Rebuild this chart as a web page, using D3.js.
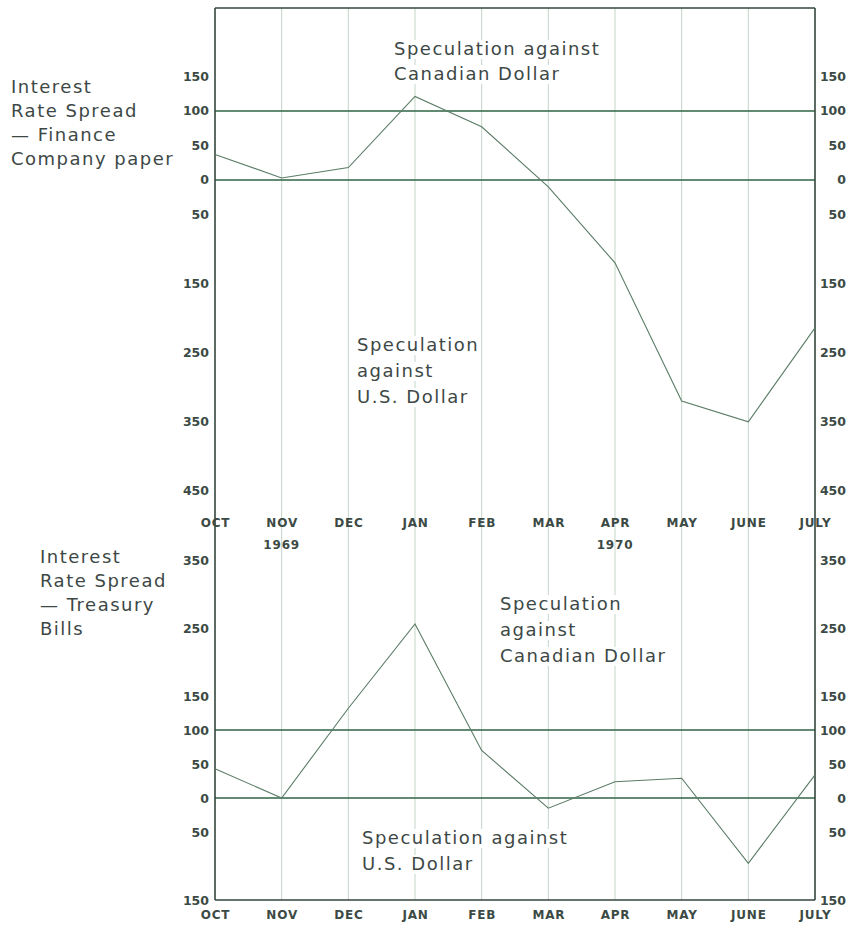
<!DOCTYPE html>
<html>
<head>
<meta charset="utf-8">
<script src="https://cdn.jsdelivr.net/npm/d3@7"></script>
<style>
  html, body { margin: 0; padding: 0; background: #fff; }
  svg { display: block; }
  .tick-label { font-family: "DejaVu Sans", sans-serif; font-weight: bold; font-size: 12.5px; fill: #3c4a45; }
  .month-label { font-family: "DejaVu Sans", sans-serif; font-weight: bold; font-size: 12px; letter-spacing: 0.8px; fill: #3c4a45; }
  .note { font-family: "DejaVu Sans", sans-serif; font-size: 18px; letter-spacing: 1.5px; fill: #3d4846; }
</style>
</head>
<body>
<svg id="chart" width="852" height="926"></svg>
<script>
// ---- data ----
const months = ["OCT", "NOV", "DEC", "JAN", "FEB", "MAR", "APR", "MAY", "JUNE", "JULY"];
const yearLabels = [["NOV", "1969"], ["APR", "1970"]];
const financeSpread = [37, 3, 18, 121, 77, -10, -120, -320, -350, -214];
const treasurySpread = [43, 0, 132, 256, 70, -15, 24, 29, -96, 34];
const financeTicks = [150, 100, 50, 0, -50, -150, -250, -350, -450];
const treasuryTicks = [350, 250, 150, 100, 50, 0, -50, -150];
const refLines = [0, 100];
const financeTitle = ["Interest", "Rate Spread", "— Finance", "Company paper"];
const treasuryTitle = ["Interest", "Rate Spread", "— Treasury", "Bills"];
const topNoteCad = ["Speculation against", "Canadian Dollar"];
const topNoteUsd = ["Speculation", "against", "U.S. Dollar"];
const botNoteCad = ["Speculation", "against", "Canadian Dollar"];
const botNoteUsd = ["Speculation against", "U.S. Dollar"];

// ---- layout ----
const svg = d3.select("#chart");
const L = 215, R = 815, TOP = 8, BOTTOM = 900;
const x = d3.scalePoint().domain(months).range([L, R]);
const yTop = d3.scaleLinear().domain([-485, 249]).range([515, TOP]);
const yBot = d3.scaleLinear().domain([-150, 350]).range([BOTTOM, 560]);

const gridColor = "#c4d4c8";
const refColor = "#2f6446";
const frameColor = "#34463c";
const seriesColor = "#5a7c66";

// vertical month gridlines spanning both panels
svg.append("g").selectAll("line")
  .data(months.slice(1, -1))
  .join("line")
  .attr("x1", d => x(d)).attr("x2", d => x(d))
  .attr("y1", TOP).attr("y2", BOTTOM)
  .attr("stroke", gridColor).attr("stroke-width", 1);

// reference lines at 0 and 100
[yTop, yBot].forEach(y => {
  svg.append("g").selectAll("line")
    .data(refLines)
    .join("line")
    .attr("x1", L).attr("x2", R)
    .attr("y1", d => y(d)).attr("y2", d => y(d))
    .attr("stroke", refColor).attr("stroke-width", 1.5);
});

// frame
const frame = svg.append("g").attr("stroke", frameColor).attr("stroke-width", 1.6);
frame.append("line").attr("x1", L).attr("x2", R).attr("y1", TOP).attr("y2", TOP);
frame.append("line").attr("x1", L).attr("x2", R).attr("y1", BOTTOM).attr("y2", BOTTOM);
frame.append("line").attr("x1", L).attr("x2", L).attr("y1", TOP).attr("y2", BOTTOM);
frame.append("line").attr("x1", R).attr("x2", R).attr("y1", TOP).attr("y2", BOTTOM);

// notes with white backgrounds (masking gridlines)
function note(lines, x0, y0, lh) {
  const g = svg.append("g");
  const bg = g.append("g");
  const t = g.append("text").attr("class", "note");
  lines.forEach((s, i) => {
    t.append("tspan").attr("x", x0).attr("y", y0 + i * lh).text(s);
  });
  lines.forEach((s, i) => {
    const tmp = g.append("text").attr("class", "note").attr("x", x0).attr("y", y0 + i * lh).text(s);
    const b = tmp.node().getBBox();
    tmp.remove();
    bg.append("rect").attr("x", b.x - 3).attr("y", b.y + 2).attr("width", b.width + 4).attr("height", b.height - 2).attr("fill", "#fff");
  });
  return g;
}
note(topNoteCad, 394, 55, 25);
note(topNoteUsd, 357, 351, 26);
note(botNoteCad, 500, 610, 26);
note(botNoteUsd, 362, 844, 26);

// series lines
const lineGen = y => d3.line().x((d, i) => x(months[i])).y(d => y(d));
svg.append("path").datum(financeSpread)
  .attr("d", lineGen(yTop)).attr("fill", "none")
  .attr("stroke", seriesColor).attr("stroke-width", 1.1);
svg.append("path").datum(treasurySpread)
  .attr("d", lineGen(yBot)).attr("fill", "none")
  .attr("stroke", seriesColor).attr("stroke-width", 1.1);

// y axes
function yAxes(y, ticks) {
  const fmt = d => String(Math.abs(d));
  const gl = svg.append("g").attr("transform", `translate(${L},0)`)
    .call(d3.axisLeft(y).tickValues(ticks).tickFormat(fmt).tickSize(0).tickPadding(6));
  const gr = svg.append("g").attr("transform", `translate(${R},0)`)
    .call(d3.axisRight(y).tickValues(ticks).tickFormat(fmt).tickSize(0).tickPadding(31));
  [gl, gr].forEach(g => {
    g.select(".domain").remove();
    g.attr("font-family", null).attr("font-size", null);
    g.selectAll("text").attr("class", "tick-label").attr("fill", null);
  });
  gr.selectAll("text").attr("text-anchor", "end");
}
yAxes(yTop, financeTicks);
yAxes(yBot, treasuryTicks);

// month axes
function monthAxis(yPos) {
  const g = svg.append("g").attr("transform", `translate(0,${yPos})`)
    .call(d3.axisBottom(x).tickSize(0).tickPadding(0));
  g.select(".domain").remove();
  g.attr("font-family", null).attr("font-size", null);
  g.selectAll("text").attr("class", "month-label").attr("fill", null).attr("dy", "0.35em").attr("y", 0);
}
monthAxis(523);
monthAxis(915);

// year labels
svg.append("g").selectAll("text")
  .data(yearLabels)
  .join("text")
  .attr("class", "month-label")
  .attr("x", d => x(d[0])).attr("y", 545).attr("dy", "0.35em")
  .attr("text-anchor", "middle")
  .text(d => d[1]);

// panel titles
function title(lines, x0, y0) {
  const t = svg.append("text").attr("class", "note");
  lines.forEach((s, i) => t.append("tspan").attr("x", x0).attr("y", y0 + i * 24).text(s));
}
title(financeTitle, 11, 93);
title(treasuryTitle, 40, 563);
</script>
</body>
</html>
